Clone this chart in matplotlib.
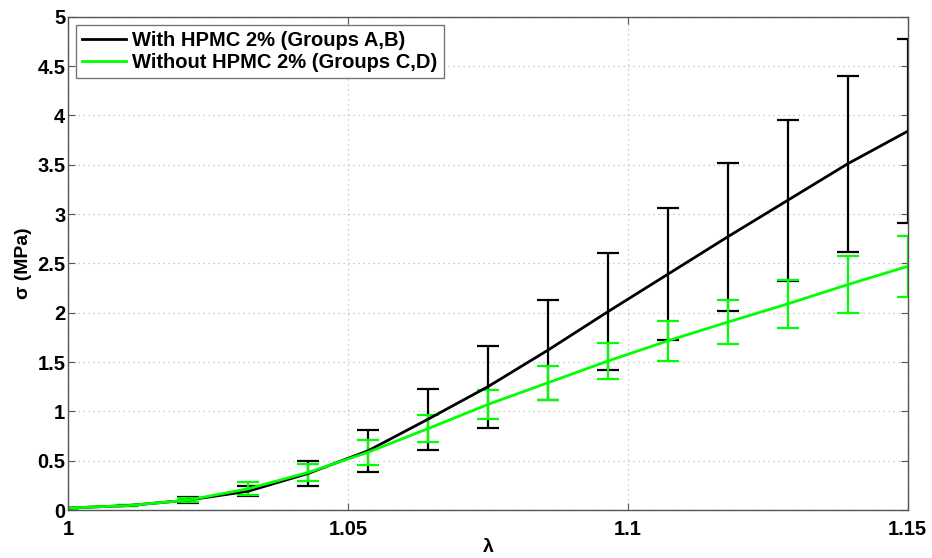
import numpy as np
import matplotlib
matplotlib.use('Agg')
import matplotlib.pyplot as plt
from matplotlib.ticker import MultipleLocator, FormatStrFormatter

plt.rcParams['font.family'] = ['Liberation Sans', 'DejaVu Sans']

# stretch values: 15 equally spaced points from 1 to 1.15
lam = np.linspace(1.0, 1.15, 15)

# with HPMC 2% (groups A,B)
sig_ab = [0.02, 0.045, 0.10, 0.19, 0.37, 0.60, 0.92, 1.25, 1.62, 2.01, 2.39, 2.77, 3.14, 3.51, 3.84]
err_ab = [0.005, 0.008, 0.03, 0.05, 0.13, 0.215, 0.31, 0.415, 0.505, 0.595, 0.67, 0.75, 0.815, 0.89, 0.93]

# without HPMC 2% (groups C,D)
sig_cd = [0.02, 0.045, 0.10, 0.215, 0.38, 0.585, 0.825, 1.07, 1.29, 1.51, 1.715, 1.905, 2.09, 2.285, 2.47]
err_cd = [0.005, 0.008, 0.02, 0.065, 0.09, 0.125, 0.135, 0.15, 0.17, 0.18, 0.205, 0.225, 0.24, 0.285, 0.31]

fig = plt.figure(figsize=(9.32, 5.58), dpi=100)
ax = fig.add_axes([0.073, 0.086, 0.901, 0.884])

ax.errorbar(lam, sig_ab, yerr=err_ab, color='black', lw=2, elinewidth=1.6,
            capsize=8, capthick=1.6, label='With HPMC 2% (Groups A,B)')
ax.errorbar(lam, sig_cd, yerr=err_cd, color='#00ff00', lw=2, elinewidth=1.6,
            capsize=8, capthick=1.6, label='Without HPMC 2% (Groups C,D)')

ax.set_xlim(1.0, 1.15)
ax.set_ylim(0, 5)
ax.xaxis.set_major_locator(MultipleLocator(0.05))
ax.yaxis.set_major_locator(MultipleLocator(0.5))
ax.xaxis.set_major_formatter(FormatStrFormatter('%g'))
ax.yaxis.set_major_formatter(FormatStrFormatter('%g'))

ax.grid(True, ls=(0, (1, 3)), color='#bbbbbb', lw=0.9)
ax.tick_params(direction='in', top=True, right=True, length=5, color='#555555',
               labelsize=14.5)
ax.tick_params(axis='x', pad=7)
ax.tick_params(axis='y', pad=2)
for lbl in ax.get_xticklabels() + ax.get_yticklabels():
    lbl.set_fontweight('bold')
for s in ax.spines.values():
    s.set_color('#555555')
    s.set_linewidth(1.0)

ax.set_xlabel('λ', fontsize=14, fontweight='bold', labelpad=0)
ax.set_ylabel('σ (MPa)', fontsize=14, fontweight='bold', labelpad=4)

handles, labels = ax.get_legend_handles_labels()
handles = [h[0] for h in handles]
leg = ax.legend(handles, labels, loc='upper left',
                prop={'weight': 'bold', 'size': 14.5}, fancybox=False,
                edgecolor='#777777', framealpha=1, handlelength=2.2,
                borderpad=0.3, labelspacing=0.15, handletextpad=0.3,
                borderaxespad=0.4)
leg.get_frame().set_linewidth(1.0)

fig.savefig('out.png', dpi=100)
